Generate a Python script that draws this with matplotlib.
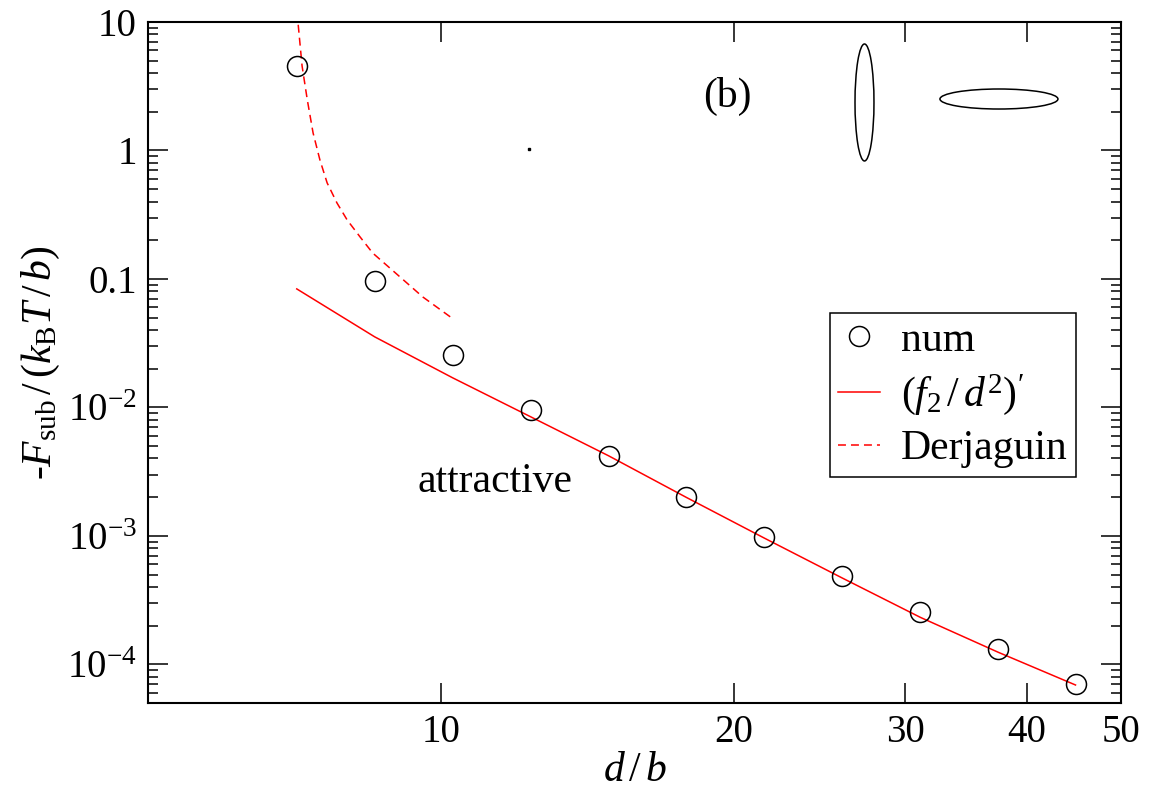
import matplotlib
matplotlib.use("Agg")
import matplotlib.pyplot as plt
from matplotlib.patches import Ellipse
from matplotlib.ticker import FixedLocator, FixedFormatter, LogLocator, NullLocator

plt.rcParams['font.family'] = ['Liberation Serif', 'DejaVu Serif']
plt.rcParams['mathtext.fontset'] = 'custom'
plt.rcParams['mathtext.rm'] = 'Liberation Serif'
plt.rcParams['mathtext.it'] = 'Liberation Serif:italic'
plt.rcParams['mathtext.bf'] = 'Liberation Serif:bold'

# numerical data (circles)
d_num = [7.11, 8.55, 10.28, 12.37, 14.87, 17.88, 21.5, 25.86, 31.1, 37.4, 44.9]
F_num = [4.55, 0.0964, 0.0257, 0.00957, 0.0042, 0.00201, 0.00098,
         0.000489, 0.000256, 0.000132, 7.05e-5]

# (f2/d^2)' curve
d_f2 = [7.11, 8.55, 10.28, 12.37, 14.87, 17.88, 21.5, 25.86, 31.1, 37.4, 44.9]
F_f2 = [0.0836, 0.0354, 0.017, 0.00844, 0.0042, 0.00199, 0.00096,
        0.000469, 0.000232, 0.000124, 6.9e-5]

# Derjaguin approximation
d_derj = [7.12, 7.13, 7.20, 7.29, 7.39, 7.51, 7.64, 7.82, 8.01, 8.26,
          8.51, 9.15, 9.58, 10.26]
F_derj = [12.0, 10.0, 4.55, 2.47, 1.369, 0.845, 0.559, 0.390, 0.288, 0.212,
          0.159, 0.0983, 0.0724, 0.0497]

x_ticks = [10, 20, 30, 40, 50]
y_ticks = [1e-4, 1e-3, 1e-2, 0.1, 1, 10]
y_ticklabels = [r"$10^{-4}$", r"$10^{-3}$", r"$10^{-2}$", "0.1", "1", "10"]

fig = plt.figure(figsize=(11.49, 7.91), dpi=100)
ax = fig.add_axes([0.1288, 0.1113, 0.8468, 0.8609])
ax.set_xscale('log')
ax.set_yscale('log')

ax.plot(d_num, F_num, linestyle='none', marker='o', markersize=14.4,
        markerfacecolor='none', markeredgecolor='black', markeredgewidth=1.1,
        label='num', zorder=3)
ax.plot(d_f2, F_f2, color='red', lw=1.1, label=r"$(f_2\,/\,d^2)^{\prime}$")
ax.plot(d_derj, F_derj, color='red', lw=1.1, dashes=(5.2, 3.3),
        label='Derjaguin')
# stray dot present in the original
ax.plot([12.32], [1.03], marker='s', markersize=2, color='black', linestyle='none')

ax.set_xlim(5, 50)
ax.set_ylim(5e-5, 10)

ax.xaxis.set_major_locator(FixedLocator(x_ticks))
ax.xaxis.set_major_formatter(FixedFormatter([str(t) for t in x_ticks]))
ax.xaxis.set_minor_locator(NullLocator())
ax.yaxis.set_major_locator(FixedLocator(y_ticks))
ax.yaxis.set_major_formatter(FixedFormatter(y_ticklabels))
ax.yaxis.set_minor_locator(LogLocator(base=10, subs=range(2, 10), numticks=20))

ax.tick_params(which='both', direction='in', top=True, right=True,
               labelsize=28, width=1.1)
ax.tick_params(which='major', length=14.4, pad=8)
ax.tick_params(which='minor', length=7.2)
for s in ax.spines.values():
    s.set_linewidth(1.5)

ax.set_xlabel(r"$d\,/\,b$", fontsize=30, labelpad=0)
ax.set_ylabel(r"-$F_{\rm sub}\,/\,(k_{\rm B}T\,/\,b)$", fontsize=30, labelpad=4)

ax.text(0.595, 0.890, "(b)", transform=ax.transAxes, fontsize=30,
        ha='center', va='center')
ax.text(0.3566, 0.3245, "attractive", transform=ax.transAxes, fontsize=30,
        ha='center', va='center')

ax.add_patch(Ellipse((0.7364, 0.8818), 0.0195, 0.1718, transform=ax.transAxes,
                     fill=False, edgecolor='black', lw=1.1))
ax.add_patch(Ellipse((0.8746, 0.8869), 0.1213, 0.0294, transform=ax.transAxes,
                     fill=False, edgecolor='black', lw=1.1))

leg = ax.legend(loc='upper left', bbox_to_anchor=(0.701, 0.5727), fontsize=30,
                frameon=True, fancybox=False, framealpha=1, edgecolor='black',
                handlelength=1.0, handletextpad=0.5, borderpad=0.2,
                labelspacing=0.3, borderaxespad=0)
leg.get_frame().set_linewidth(1.1)

fig.savefig("out.png", dpi=100)
